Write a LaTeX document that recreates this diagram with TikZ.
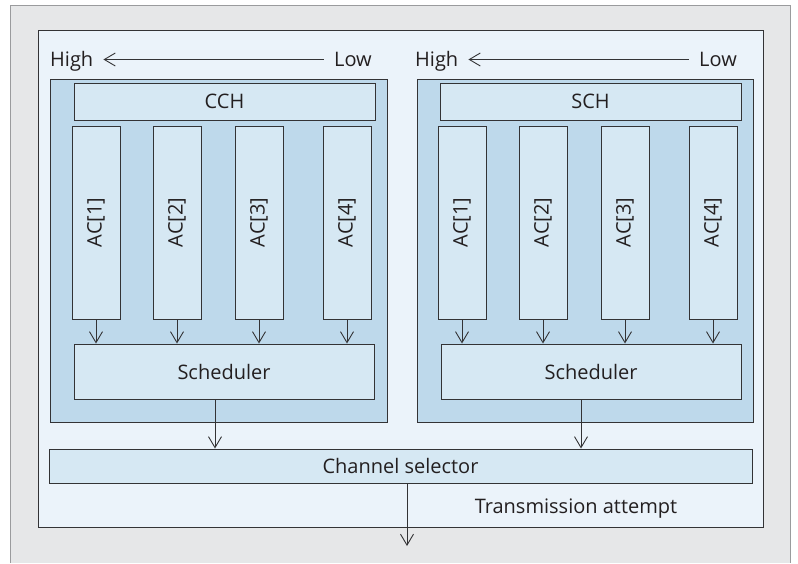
\documentclass[tikz,border=0pt]{standalone}
\usepackage{fontspec}
\setmainfont{Open Sans}
\usetikzlibrary{arrows.meta}
\definecolor{pagegray}{HTML}{E6E7E8}
\definecolor{rimgray}{HTML}{9A9B9D}
\definecolor{paleblue}{HTML}{EBF3FA}
\definecolor{midblue}{HTML}{BED9EB}
\definecolor{boxblue}{HTML}{D6E8F3}
\definecolor{ink}{HTML}{333335}
\definecolor{textink}{HTML}{231F20}
\tikzset{
  txt/.style={font=\fontsize{20}{24}\selectfont,text=textink},
  frame/.style={rectangle,draw=ink,line width=1pt,inner sep=0pt},
  box/.style={frame,fill=boxblue,txt},
  acbox/.style={box,minimum width=48pt,minimum height=193pt},
  lbl/.style={txt,inner sep=0pt,text height=14pt,text depth=0pt},
  arr/.style={draw=ink,line width=0.9pt,-{Straight Barb[length=11pt,width=13pt]}}
}
\begin{document}
\begin{tikzpicture}[x=1pt,y=-1pt]
\useasboundingbox (0,0) rectangle (798,563);
\fill[pagegray] (10,5) rectangle (790,563);
\draw[rimgray,line width=1pt] (10,563) -- (10,5) -- (790,5) -- (790,563);

% outer panel and the two channel panels
\node (panel) [frame,fill=paleblue,minimum width=725pt,minimum height=497pt] at (400.5,278.5) {};
\node (cchp) [frame,fill=midblue,minimum width=337pt,minimum height=343pt] at (218.5,250.5) {};
\node (schp) [frame,fill=midblue,minimum width=336pt,minimum height=343pt] at (585,250.5) {};

% priority labels
\node (hiC) [lbl,anchor=west] at (50,59.5) {High};
\node (loC) [lbl,anchor=east] at (372,59.5) {Low};
\node (hiS) [lbl,anchor=west] at (415,59.5) {High};
\node (loS) [lbl,anchor=east] at (737,59.5) {Low};
\draw [arr,shorten <=10pt,shorten >=10pt] (loC.west) -- (hiC.east);
\draw [arr,shorten <=10pt,shorten >=10pt] (loS.west) -- (hiS.east);

% channel bars
\node (cch) [box,minimum width=301pt,minimum height=37pt] at (224.5,101.5) {CCH};
\node (sch) [box,minimum width=301pt,minimum height=37pt] at (590.5,101.5) {SCH};

% access categories
\foreach \i/\x in {1/96,2/177,3/259,4/347}
  \node (acC\i) [acbox] at (\x,222.5) {\rotatebox{90}{AC[\i]}};
\foreach \i/\x in {1/462,2/543,3/625,4/713}
  \node (acS\i) [acbox] at (\x,222.5) {\rotatebox{90}{AC[\i]}};

% schedulers
\node (schedC) [box,minimum width=300pt,minimum height=55pt] at (224,371.5) {Scheduler};
\node (schedS) [box,minimum width=300pt,minimum height=55pt] at (591,371.5) {Scheduler};
\foreach \i in {1,...,4} {
  \draw [arr] (acC\i.south) -- (acC\i.south |- schedC.north);
  \draw [arr] (acS\i.south) -- (acS\i.south |- schedS.north);
}

% channel selector
\node (sel) [box,minimum width=703pt,minimum height=34pt] at (400.5,466) {Channel selector};
\draw [arr] ([xshift=-9pt]schedC.south) -- ([xshift=-9pt]schedC.south |- sel.north);
\draw [arr] ([xshift=-10pt]schedS.south) -- ([xshift=-10pt]schedS.south |- sel.north);

\coordinate (out) at (407,546);
\draw [arr] (sel.south -| out) -- (out);
\node (tx) [txt] at (576,509) {Transmission attempt};
\end{tikzpicture}
\end{document}
